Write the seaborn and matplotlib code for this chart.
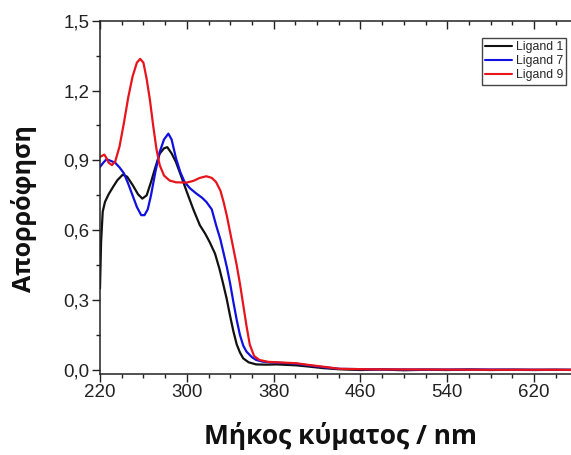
import numpy as np
import pandas as pd
import matplotlib
matplotlib.use("Agg")
import matplotlib.pyplot as plt
from matplotlib.ticker import MultipleLocator, FixedLocator, FuncFormatter
import seaborn as sns

# UV-Vis absorption spectra of three ligands
nm_l1 = [220, 221, 222.5, 224.6, 228, 232, 236, 241, 245, 250, 255, 259, 263, 267,
         271, 275, 279, 282, 286, 290, 295, 300, 306, 312, 317, 321, 326, 330, 333,
         336.7, 340, 343, 346, 349, 352, 357, 364, 373, 383, 392, 401, 412, 426,
         441, 460, 480, 500, 520, 540, 560, 580, 600, 620, 640, 660, 680, 700]
abs_l1 = [0.35, 0.55, 0.68, 0.722, 0.755, 0.786, 0.815, 0.839, 0.83, 0.795, 0.755,
          0.736, 0.75, 0.807, 0.87, 0.929, 0.952, 0.957, 0.93, 0.893, 0.83, 0.765,
          0.69, 0.622, 0.585, 0.55, 0.5, 0.436, 0.38, 0.307, 0.23, 0.165, 0.11,
          0.075, 0.05, 0.033, 0.024, 0.023, 0.024, 0.022, 0.02, 0.015, 0.008,
          0.003, 0.0, 0.002, -0.001, 0.001, 0.0, 0.002, 0.0, 0.001, 0.0, 0.001,
          0.0, 0.001, 0.0]

nm_l7 = [220, 223, 226, 230, 234, 238, 242, 246, 250, 254, 258, 261, 264, 267, 271,
         275, 279, 283, 286, 290, 294, 298, 303, 309, 314, 318, 323, 327, 331, 334,
         337, 340, 343, 346, 349, 352, 355, 360, 364, 370, 377, 390, 401, 412, 426,
         441, 470, 520, 580, 640, 700]
abs_l7 = [0.872, 0.89, 0.905, 0.898, 0.89, 0.87, 0.845, 0.80, 0.75, 0.70, 0.665,
          0.665, 0.69, 0.75, 0.85, 0.936, 0.99, 1.015, 0.99, 0.91, 0.85, 0.807,
          0.78, 0.757, 0.74, 0.722, 0.69, 0.622, 0.56, 0.5, 0.44, 0.37, 0.29,
          0.215, 0.15, 0.105, 0.079, 0.055, 0.043, 0.036, 0.033, 0.03, 0.027,
          0.02, 0.012, 0.005, 0.003, 0.002, 0.002, 0.001, 0.001]

nm_l9 = [220, 222, 224, 226, 228, 231, 234, 238, 242, 246, 250, 254, 257, 260, 263,
         266, 269, 272, 275, 279, 284, 290, 300, 306, 312, 318, 323, 327, 331, 334,
         337, 340, 343, 346, 349, 352, 355, 358, 362, 367, 375, 383, 392, 401, 412,
         426, 441, 470, 520, 580, 640, 700]
abs_l9 = [0.915, 0.92, 0.925, 0.91, 0.89, 0.88, 0.895, 0.96, 1.06, 1.17, 1.26, 1.32,
          1.336, 1.32, 1.25, 1.16, 1.05, 0.95, 0.88, 0.835, 0.814, 0.806, 0.805,
          0.812, 0.825, 0.832, 0.825, 0.807, 0.77, 0.72, 0.66, 0.59, 0.52, 0.45,
          0.37, 0.28, 0.19, 0.11, 0.06, 0.043, 0.035, 0.033, 0.031, 0.029, 0.022,
          0.014, 0.005, 0.003, 0.002, 0.001, 0.001, 0.0]

series_names = ["Ligand 1", "Ligand 7", "Ligand 9"]
series_colors = ["#111111", "#1010e0", "#e8141c"]
x_major_ticks = [220, 300, 380, 460, 540, 620]
y_major_ticks = [0.0, 0.3, 0.6, 0.9, 1.2, 1.5]

df = pd.concat([
    pd.DataFrame({"nm": nm_l1, "A": abs_l1, "ligand": series_names[0]}),
    pd.DataFrame({"nm": nm_l7, "A": abs_l7, "ligand": series_names[1]}),
    pd.DataFrame({"nm": nm_l9, "A": abs_l9, "ligand": series_names[2]}),
], ignore_index=True)

sns.set_style("ticks")
plt.rcParams["font.family"] = ["Liberation Sans", "DejaVu Sans"]

W, H = 571, 455
fig = plt.figure(figsize=(W / 100, H / 100), dpi=100)
# axes run past the right edge of the canvas
ax = fig.add_axes([100 / W, (H - 373.5) / H, 520.8 / W, (373.5 - 20.7) / H])

sns.lineplot(data=df, x="nm", y="A", hue="ligand", palette=series_colors,
             hue_order=series_names, estimator=None, linewidth=1.6, ax=ax,
             legend=False)

ax.set_xlim(220, 700)
ax.set_ylim(-0.015, 1.5)
ax.xaxis.set_major_locator(FixedLocator(x_major_ticks))
ax.xaxis.set_minor_locator(MultipleLocator(20))
ax.yaxis.set_major_locator(FixedLocator(y_major_ticks))
ax.yaxis.set_minor_locator(MultipleLocator(0.15))
ax.yaxis.set_major_formatter(FuncFormatter(lambda v, p: f"{v:.1f}".replace(".", ",")))
ax.tick_params(which="major", length=5.5, width=1, direction="out", labelsize=13.5,
               pad=2, color="#222222", labelcolor="#222222")
ax.tick_params(which="minor", length=3, width=1, direction="out", color="#222222")
ax.set_xlabel("")
ax.set_ylabel("")
for side in ["left", "bottom", "top"]:
    ax.spines[side].set_linewidth(1.1)
    ax.spines[side].set_color("#222222")
ax.spines["right"].set_visible(False)

top = ax.secondary_xaxis("top")
top.xaxis.set_major_locator(FixedLocator(x_major_ticks))
top.xaxis.set_minor_locator(MultipleLocator(20))
top.tick_params(which="major", direction="in", length=5.5, width=1, labeltop=False,
                color="#222222")
top.tick_params(which="minor", direction="in", length=3, width=1, color="#222222")
top.spines["top"].set_visible(False)

handles = [plt.Line2D([], [], color=c, lw=1.5) for c in series_colors]
fig.legend(handles, series_names, loc="upper right",
           bbox_to_anchor=(566 / W, (H - 38) / H), fontsize=8.8,
           handlelength=2.2, handletextpad=0.3, labelspacing=0.18,
           borderpad=0.25, borderaxespad=0, frameon=True, fancybox=False,
           edgecolor="#444444", framealpha=1)

label_font = ["Open Sans", "DejaVu Sans"]
fig.text(340 / W, (H - 436) / H, "Μήκος κύματος / nm", ha="center", va="center",
         fontsize=19, fontweight="bold", family=label_font, color="#111111")
fig.text(24 / W, (H - 209) / H, "Απορρόφηση", ha="center", va="center",
         rotation=90, fontsize=18, fontweight="bold", family=label_font,
         color="#111111")

fig.savefig("out.png", dpi=100)
